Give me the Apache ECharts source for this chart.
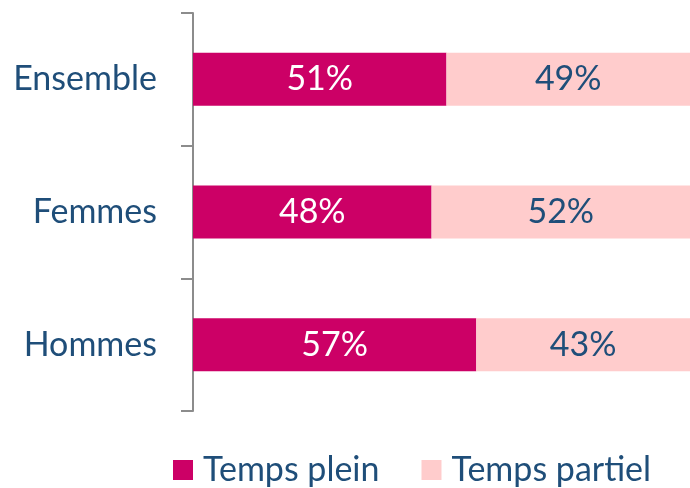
<!DOCTYPE html>
<html><head><meta charset="utf-8">
<script src="https://cdn.jsdelivr.net/npm/echarts@6/dist/echarts.min.js"></script>
<style>html,body{margin:0;padding:0;background:#fff}#c{width:690px;height:488px}</style>
</head><body><div id="c"></div>
<script>
const categories = ['Hommes', 'Femmes', 'Ensemble'];
const tempsPlein = [57, 48, 51];
const tempsPartiel = [43, 52, 49];
const seriesNames = ['Temps plein', 'Temps partiel'];
const FONT = 'Lato';
const BLUE = '#1F4E79';
const FS = 34;
const chart = echarts.init(document.getElementById('c'), null, {renderer: 'canvas'});
chart.setOption({
  animation: false,
  textStyle: {fontFamily: FONT},
  grid: {left: 193, right: -3, top: 13, bottom: 77},
  legend: {
    top: 448, left: 168,
    itemWidth: 20, itemHeight: 20, itemGap: 42,
    icon: 'rect',
    textStyle: {fontFamily: FONT, fontSize: FS, lineHeight: 34, color: BLUE, padding: [0, 0, 0, 5]},
    data: seriesNames
  },
  xAxis: {type: 'value', min: 0, max: 100, show: false},
  yAxis: {
    type: 'category', data: categories,
    axisLine: {show: true, lineStyle: {color: '#8c8c8c', width: 2}},
    axisTick: {show: true, length: 12, lineStyle: {color: '#8c8c8c', width: 2}},
    axisLabel: {fontFamily: FONT, fontSize: FS, color: BLUE, margin: 36}
  },
  series: [
    {name: seriesNames[0], type: 'bar', stack: 't', barWidth: '40%', data: tempsPlein,
     itemStyle: {color: '#CC0066'},
     label: {show: true, position: 'inside', formatter: '{c}%', color: '#fff', fontFamily: FONT, fontSize: FS}},
    {name: seriesNames[1], type: 'bar', stack: 't', barWidth: '40%', data: tempsPartiel,
     itemStyle: {color: '#FFCCCC'},
     label: {show: true, position: 'inside', formatter: '{c}%', color: BLUE, fontFamily: FONT, fontSize: FS}}
  ]
});
</script></body></html>
